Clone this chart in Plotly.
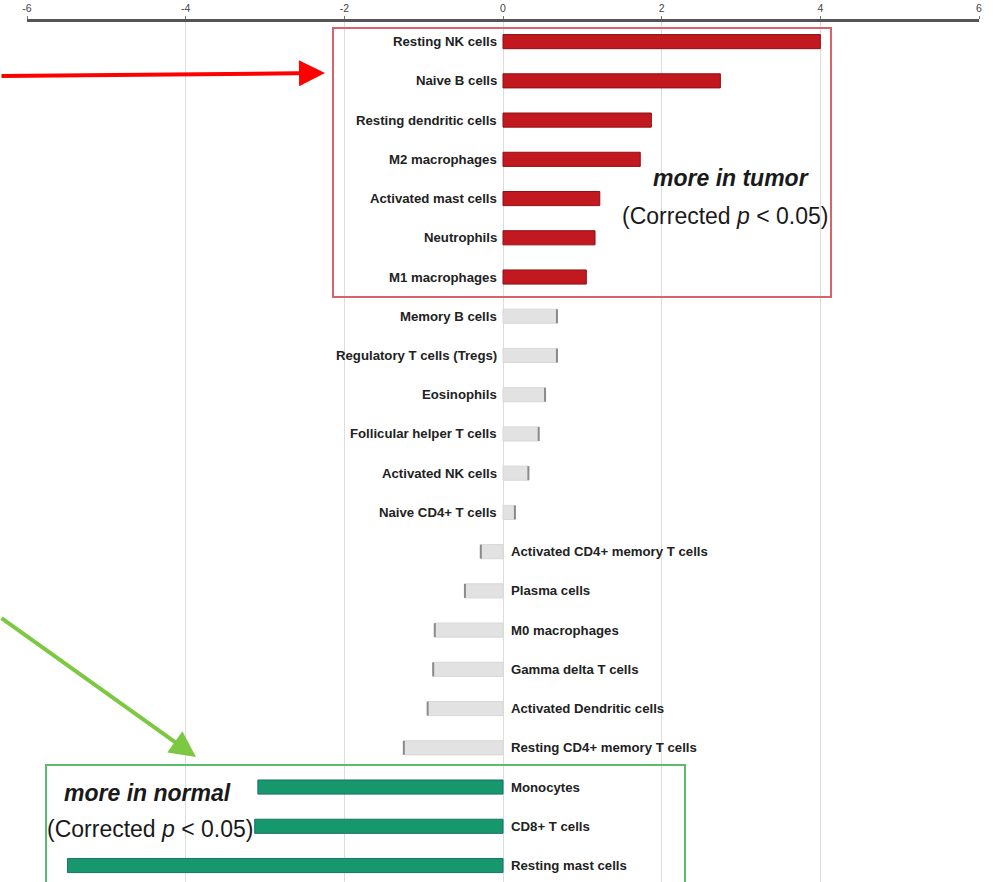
import plotly.graph_objects as go

cells = ["Resting NK cells", "Naive B cells", "Resting dendritic cells", "M2 macrophages",
         "Activated mast cells", "Neutrophils", "M1 macrophages", "Memory B cells",
         "Regulatory T cells (Tregs)", "Eosinophils", "Follicular helper T cells",
         "Activated NK cells", "Naive CD4+ T cells", "Activated CD4+ memory T cells",
         "Plasma cells", "M0 macrophages", "Gamma delta T cells", "Activated Dendritic cells",
         "Resting CD4+ memory T cells", "Monocytes", "CD8+ T cells", "Resting mast cells"]
values = [4.0, 2.74, 1.87, 1.73, 1.22, 1.16, 1.05, 0.68, 0.68, 0.53, 0.45, 0.32, 0.15,
          -0.28, -0.48, -0.86, -0.88, -0.95, -1.25, -3.09, -3.13, -5.49]
group = ["tumor"] * 7 + ["ns"] * 12 + ["normal"] * 3
tick_vals = [-6, -4, -2, 0, 2, 4, 6]

FONT = "Liberation Sans Narrow, Arial Narrow, Liberation Sans, Arial, sans-serif"
W, H = 994, 882
L, R, T, B = 27, 15, 22, 0
PW, PH = W - L - R, H - T - B

def px(x):
    return (x - L) / PW

def py(y):
    return 1 - (y - T) / PH

colors = {"tumor": "#c2181f", "ns": "#e2e2e2", "normal": "#17976c"}
lines = {"tumor": "#8e0f14", "ns": "#d8d8d8", "normal": "#1b6f6e"}
idx = list(range(len(cells)))

fig = go.Figure()
fig.add_trace(go.Bar(
    x=values, y=idx, orientation="h", width=0.36,
    marker=dict(color=[colors[g] for g in group],
                line=dict(color=[lines[g] for g in group], width=1)),
    hoverinfo="skip", showlegend=False))

ns_idx = [i for i, g in enumerate(group) if g == "ns"]
fig.add_trace(go.Scatter(
    x=[values[i] for i in ns_idx], y=ns_idx, mode="markers",
    marker=dict(symbol="line-ns", size=10, line=dict(color="#8a8a8a", width=2)),
    hoverinfo="skip", showlegend=False))

annotations = []
for i, (c, v) in enumerate(zip(cells, values)):
    if v >= 0:
        annotations.append(dict(x=0, y=i, xref="x", yref="y", text="<b>" + c + "</b>",
                                showarrow=False, xanchor="right", xshift=-4,
                                font=dict(family=FONT, size=13.2, color="#222222")))
    else:
        annotations.append(dict(x=0, y=i, xref="x", yref="y", text="<b>" + c + "</b>",
                                showarrow=False, xanchor="left", xshift=6,
                                font=dict(family=FONT, size=13.2, color="#222222")))

big = dict(family=FONT, size=23, color="#1a1a1a")
annotations += [
    dict(x=px(731), y=py(178), xref="paper", yref="paper", text="<b><i>more in tumor</i></b>",
         showarrow=False, font=big, xanchor="center", yanchor="middle"),
    dict(x=px(725), y=py(216), xref="paper", yref="paper",
         text="(Corrected <i>p</i> < 0.05)", showarrow=False, font=big,
         xanchor="center", yanchor="middle"),
    dict(x=px(147), y=py(793), xref="paper", yref="paper", text="<b><i>more in normal</i></b>",
         showarrow=False, font=big, xanchor="center", yanchor="middle"),
    dict(x=px(150), y=py(829), xref="paper", yref="paper",
         text="(Corrected <i>p</i> < 0.05)", showarrow=False, font=big,
         xanchor="center", yanchor="middle"),
    dict(x=px(325), y=py(73), xref="paper", yref="paper", ax=-325, ay=3,
         axref="pixel", ayref="pixel", showarrow=True, arrowhead=2, arrowsize=1.3,
         arrowwidth=4, arrowcolor="#ff0000", text=""),
    dict(x=px(196), y=py(757), xref="paper", yref="paper", ax=-200, ay=-140,
         axref="pixel", ayref="pixel", showarrow=True, arrowhead=2, arrowsize=1.3,
         arrowwidth=4, arrowcolor="#7dc843", text=""),
]

shapes = [
    dict(type="rect", xref="paper", yref="paper", x0=px(333), x1=px(831), y0=py(28), y1=py(297),
         line=dict(color="#d6646a", width=2)),
    dict(type="rect", xref="paper", yref="paper", x0=px(46), x1=px(685), y0=py(765), y1=py(895),
         line=dict(color="#5dbb6d", width=2)),
]

fig.update_layout(
    width=W, height=H, margin=dict(l=L, r=R, t=T, b=B, autoexpand=False),
    paper_bgcolor="white", plot_bgcolor="white",
    xaxis=dict(range=[-6, 6], side="top", tickvals=tick_vals, ticktext=[str(t) for t in tick_vals],
               showgrid=True, gridcolor="#dcdcdc", gridwidth=1, zeroline=False,
               showline=True, linecolor="#555555", linewidth=3, ticks="outside",
               ticklen=3, tickcolor="#777777", automargin=False,
               tickfont=dict(family=FONT, size=10.5, color="#444444")),
    yaxis=dict(range=[21.42, -0.5], showticklabels=False, showgrid=False, zeroline=False,
               showline=False, automargin=False),
    annotations=annotations, shapes=shapes,
)

fig.write_html("out.html", config={"displayModeBar": False},
               post_script="document.body.style.margin='0';document.body.style.overflow='hidden';")
